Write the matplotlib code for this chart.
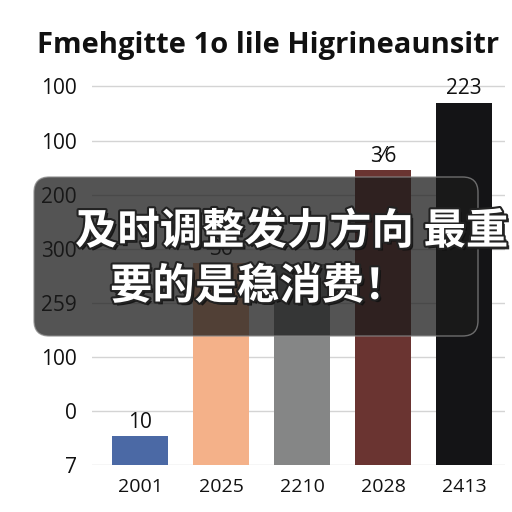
import matplotlib
matplotlib.use("Agg")
import matplotlib.pyplot as plt
from matplotlib.patches import FancyBboxPatch
import matplotlib.patheffects as pe

categories = ["2001", "2025", "2210", "2028", "2413"]
values = [27, 187, 186, 273, 335]
bar_labels = ["10", "36", "", "3\u20446", "223"]
colors = ["#4b69a5", "#f4b189", "#858686", "#6a3431", "#141416"]
ytick_vals = [0, 50, 100, 150, 200, 250, 300, 350]
ytick_labels = ["7", "0", "100", "259", "300", "200", "100", "100"]
title = "Fmehgitte 1o lile Higrineaunsitr"
overlay_line1 = "及时调整发力方向 最重"
overlay_line2 = "要的是稳消费！"

plt.rcParams['font.family'] = ['Open Sans', 'DejaVu Sans']
fig = plt.figure(figsize=(5.12, 5.12), dpi=100)
ax = fig.add_axes([92/512, (512-465)/512, (505-92)/512, (465-80)/512])

x = list(range(len(categories)))
bars = ax.bar(x, values, width=0.69, color=colors, zorder=2)
for xi, v, lab in zip(x, values, bar_labels):
    if lab:
        ax.text(xi, v + 3, lab, ha='center', va='bottom', fontsize=15, color='#111111')

ax.set_xlim(-0.593, 4.506)
ax.set_ylim(0, 356)
ax.set_yticks(ytick_vals)
ax.set_yticklabels(ytick_labels, fontsize=15, color='#111111')
ax.set_xticks(x)
ax.set_xticklabels(categories, fontsize=14, color='#111111')
ax.tick_params(axis='y', length=0, pad=11)
ax.tick_params(axis='x', length=0, pad=9)
ax.yaxis.grid(True, color='#d4d4d4', linewidth=1, zorder=0)
ax.set_axisbelow(True)
for s in ax.spines.values():
    s.set_visible(False)

fig.text(268/512, 1 - 45/512, title, ha='center', va='center', fontsize=21, fontweight='bold',
         color='#111111')

# overlay box
box = FancyBboxPatch((34/512, 1 - 336/512), (478-34)/512, (336-177)/512,
                     boxstyle="round,pad=0,rounding_size=0.03", transform=fig.transFigure,
                     facecolor='#1b1b1b', alpha=0.75, edgecolor='#8a8a8a', linewidth=1,
                     zorder=10)
fig.patches.append(box)

effects = [pe.withSimplePatchShadow(offset=(2, -2), shadow_rgbFace='#111111', alpha=0.9),
           pe.Stroke(linewidth=3, foreground='#222222'), pe.Normal()]
fig.text(75/512, 1 - 232/512, overlay_line1, ha='left', va='center', fontsize=30.5,
         fontweight='bold', color='white', family=['Noto Sans CJK SC', 'DejaVu Sans'],
         path_effects=effects, zorder=11)
fig.text(110/512, 1 - 287/512, overlay_line2, ha='left', va='center', fontsize=30.5,
         fontweight='bold', color='white', family=['Noto Sans CJK SC', 'DejaVu Sans'],
         path_effects=effects, zorder=11)

fig.savefig("out.png", dpi=100)
